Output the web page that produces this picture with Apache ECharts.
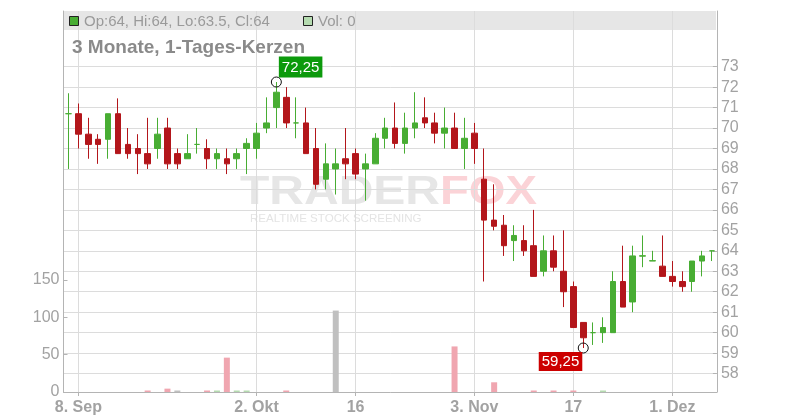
<!DOCTYPE html>
<html><head><meta charset="utf-8">
<script src="https://cdn.jsdelivr.net/npm/echarts@6/dist/echarts.min.js"></script>
<style>html,body{margin:0;padding:0;background:#fff}#c{width:800px;height:420px}</style>
</head><body><div id="c"></div>
<script>
const categories = [
 '2025-09-05',
 '2025-09-08','2025-09-09','2025-09-10','2025-09-11','2025-09-12',
 '2025-09-15','2025-09-16','2025-09-17','2025-09-18','2025-09-19',
 '2025-09-22','2025-09-23','2025-09-24','2025-09-25','2025-09-26',
 '2025-09-29','2025-09-30','2025-10-01','2025-10-02','2025-10-03',
 '2025-10-06','2025-10-07','2025-10-08','2025-10-09','2025-10-10',
 '2025-10-13','2025-10-14','2025-10-15','2025-10-16','2025-10-17',
 '2025-10-20','2025-10-21','2025-10-22','2025-10-23','2025-10-24',
 '2025-10-27','2025-10-28','2025-10-29','2025-10-30','2025-10-31',
 '2025-11-03','2025-11-04','2025-11-05','2025-11-06','2025-11-07',
 '2025-11-10','2025-11-11','2025-11-12','2025-11-13','2025-11-14',
 '2025-11-17','2025-11-18','2025-11-19','2025-11-20','2025-11-21',
 '2025-11-24','2025-11-25','2025-11-26','2025-11-27','2025-11-28',
 '2025-12-01','2025-12-02','2025-12-03','2025-12-04','2025-12-05'
];
const opens = [
 70.7,
 70.7,69.7,69.45,69.45,70.7,
 69.2,69.0,68.75,69.0,70.0,
 68.75,68.5,69.2,69.0,68.5,
 68.5,68.5,69.0,69.0,70.0,
 71.0,71.5,70.25,70.25,69.0,
 67.5,68.0,68.5,68.75,68.0,
 68.25,69.5,70.0,69.25,70.0,
 70.5,70.25,69.75,70.0,69.0,
 69.75,67.5,65.5,65.25,64.5,
 64.5,64.25,63.0,64.0,63.0,
 62.25,60.5,60.0,60.0,60.0,
 62.5,61.5,63.74,63.5,63.25,
 62.75,62.5,62.5,63.5,64
];
const closes = [
 70.7,
 69.7,69.2,69.2,70.7,68.75,
 68.75,68.75,68.25,69.7,68.25,
 68.25,68.75,69.2,68.5,68.75,
 68.25,68.75,69.25,69.75,70.25,
 71.75,70.25,70.25,68.75,67.25,
 68.25,68.25,68.25,67.75,68.25,
 69.5,70.0,69.25,70.0,70.25,
 70.25,69.75,70.0,69.0,69.5,
 69.0,65.5,65.2,64.25,64.75,
 64.0,62.75,64.0,63.2,62.0,
 60.25,59.75,60.0,60.25,62.5,
 61.25,63.75,63.76,63.52,62.75,
 62.5,62.25,63.5,63.75,64
];
const lows = [
 68.0,
 69.0,68.5,68.25,68.5,68.75,
 68.5,67.75,68.0,68.5,68.0,
 68.0,68.5,68.75,68.0,68.0,
 67.75,68.0,67.75,68.5,69.75,
 70.0,70.0,69.5,68.75,67.0,
 67.0,66.75,67.5,67.5,66.45,
 68.25,69.0,69.0,68.75,69.5,
 70.0,69.25,69.0,69.0,68.0,
 68.25,62.5,65.0,63.75,63.5,
 63.75,62.75,62.75,63.0,61.25,
 60.25,59.25,59.4,59.5,60.0,
 61.25,61.0,63.2,63.5,62.75,
 62.25,62.0,62.0,62.75,63.5
];
const highs = [
 71.7,
 71.2,70.5,69.7,70.7,71.45,
 70.0,69.7,70.5,70.5,70.5,
 69.0,69.7,70.0,69.45,69.0,
 69.0,69.0,69.5,70.25,71.5,
 72.25,72.0,71.5,71.0,70.0,
 69.25,69.0,70.0,69.0,68.75,
 69.75,70.5,71.25,70.75,71.75,
 71.5,70.75,71.0,70.75,70.5,
 70.25,69.0,67.25,65.75,65.25,
 65.25,66.0,64.75,64.75,65.0,
 62.5,60.5,60.5,60.75,63.0,
 64.25,64.25,64.75,64.0,64.75,
 63.5,63.0,63.5,64.0,64
];
const volumes = [
 0,
 0,0,0,0,0,
 0,0,2,0,4.5,
 2,0,0,2,2,
 46,2,2,0,0,
 0,2,0,0,0,
 0,109,0,0,0,
 0,0,0,0,0,
 0,0,0,61,0,
 0,0,13,0,0,
 0,2,0,2,0,
 2,0,0,2,0,
 0,0,0,0,0,
 0,0,0,0,0
];
const xTickDates = ['2025-09-08','2025-10-02','2025-10-16','2025-11-03','2025-11-17','2025-12-01'];
const xTickTexts = ['8. Sep','2. Okt','16','3. Nov','17','1. Dez'];
const priceTicks = [58,59,60,61,62,63,64,65,66,67,68,69,70,71,72,73];
const volumeTicks = [0,50,100,150];
const titleText = '3 Monate, 1-Tages-Kerzen';

const GREEN = '#48ad33', RED = '#b3161b';
const VOL_UP = '#b5dbb0', VOL_DOWN = '#f0a6b0', VOL_FLAT = '#c0c0c0';
const NARROW = "'Liberation Sans Narrow','Arial Narrow','Liberation Sans',Arial,sans-serif";
const SANS = "'Liberation Sans',Arial,sans-serif";
const AXIS_COLOR = '#b4b4b4', LABEL_COLOR = '#a2a2a2', GRID_COLOR = '#dcdcdc';

const isTick = (idx, value) => xTickDates.indexOf(value) >= 0;
const volColor = i => {
  const prev = i > 0 ? closes[i - 1] : opens[i];
  return closes[i] > prev ? VOL_UP : (closes[i] < prev ? VOL_DOWN : VOL_FLAT);
};
const fmtComma = v => String(v).replace('.', ',');

let iMax = 0, iMin = 0;
highs.forEach((h, i) => { if (h > highs[iMax]) iMax = i; });
lows.forEach((l, i) => { if (l < lows[iMin]) iMin = i; });
const last = categories.length - 1;
const legendText = `Op:${opens[last]}, Hi:${highs[last]}, Lo:${lows[last]}, Cl:${closes[last]}`;
const volText = `Vol: ${volumes[last]}`;

const chart = echarts.init(document.getElementById('c'), null, {renderer: 'canvas'});
chart.setOption({
  animation: false,
  backgroundColor: '#fff',
  grid: {left: 63.5, right: 83.1, top: 11, bottom: 28, containLabel: false, outerBoundsMode: 'none'},
  xAxis: {
    type: 'category', data: categories, boundaryGap: true,
    axisLine: {show: true, lineStyle: {color: AXIS_COLOR}},
    axisTick: {show: true, interval: isTick, alignWithLabel: true, length: 4, lineStyle: {color: AXIS_COLOR}},
    axisLabel: {interval: isTick, formatter: v => { const k = xTickDates.indexOf(v); return k >= 0 ? xTickTexts[k] : ''; },
      color: LABEL_COLOR, fontSize: 16, fontWeight: 'bold', fontFamily: NARROW, margin: 8},
    splitLine: {show: true, interval: isTick, alignWithLabel: true, lineStyle: {color: GRID_COLOR, width: 1}}
  },
  yAxis: [
    {
      type: 'value', position: 'right', min: 57.1, max: 75.72,
      axisLine: {show: true, lineStyle: {color: AXIS_COLOR}},
      axisTick: {show: true, inside: true, length: 4, customValues: priceTicks, lineStyle: {color: AXIS_COLOR}},
      axisLabel: {customValues: priceTicks, color: LABEL_COLOR, fontSize: 16, fontFamily: NARROW, margin: 4},
      splitLine: {show: true, lineStyle: {color: GRID_COLOR, width: 1}}
    },
    {
      type: 'value', position: 'left', min: 0, max: 510,
      axisLine: {show: true, lineStyle: {color: AXIS_COLOR}},
      axisTick: {show: true, inside: true, length: 4, customValues: volumeTicks, lineStyle: {color: AXIS_COLOR}},
      axisLabel: {customValues: volumeTicks, color: LABEL_COLOR, fontSize: 16, fontFamily: NARROW, margin: 4},
      splitLine: {show: false}
    }
  ],
  graphic: {elements: [
    {type: 'rect', z: -5, silent: true, shape: {x: 63.5, y: 11, width: 652.5, height: 19}, style: {fill: '#e6e6e6'}},
    {type: 'text', z: -4, silent: true, x: 240, y: 193, scaleX: 1.2, style: {text: 'TRADER', font: "bold 40px 'Liberation Sans',Arial", fill: '#e6e6e6', verticalAlign: 'middle'}},
    {type: 'text', z: -4, silent: true, x: 440, y: 193, scaleX: 1.18, style: {text: 'FOX', font: "bold 40px 'Liberation Sans',Arial", fill: '#fbd3d7', verticalAlign: 'middle'}},
    {type: 'text', z: -4, silent: true, x: 250, y: 219, scaleX: 1.05, style: {text: 'REALTIME STOCK SCREENING', font: "11px 'Liberation Sans',Arial", fill: '#e4e4e4', verticalAlign: 'middle'}},
    {type: 'rect', z: 50, silent: true, shape: {x: 69.5, y: 16.5, width: 9, height: 9}, style: {fill: GREEN, stroke: '#222', lineWidth: 1}},
    {type: 'text', z: 50, silent: true, x: 84, y: 21.5, style: {text: legendText, font: "15px " + SANS, fill: '#9a9a9a', verticalAlign: 'middle'}},
    {type: 'rect', z: 50, silent: true, shape: {x: 303.5, y: 16.5, width: 9, height: 9}, style: {fill: VOL_UP, stroke: '#222', lineWidth: 1}},
    {type: 'text', z: 50, silent: true, x: 318, y: 21.5, style: {text: volText, font: "15px " + SANS, fill: '#9a9a9a', verticalAlign: 'middle'}},
    {type: 'text', z: 50, silent: true, x: 72, y: 47.5, style: {text: titleText, font: "bold 19px " + SANS, fill: '#8a8a8a', verticalAlign: 'middle'}}
  ]},
  series: [
    {
      type: 'bar', yAxisIndex: 1, barWidth: 6, z: 1, silent: true,
      data: volumes.map((v, i) => ({value: v, itemStyle: {color: volColor(i)}}))
    },
    {
      type: 'candlestick', yAxisIndex: 0, barWidth: 6, z: 3, silent: true,
      data: categories.map((_, i) => [opens[i], closes[i], lows[i], highs[i]]),
      itemStyle: {color: GREEN, color0: RED, borderColor: GREEN, borderColor0: RED, borderWidth: 1},
      markPoint: {
        silent: true, animation: false,
        data: [
          {coord: [iMax, highs[iMax]], value: highs[iMax], symbol: 'circle', symbolSize: 10,
           itemStyle: {color: 'rgba(0,0,0,0)', borderColor: '#111', borderWidth: 1},
           label: {show: true, formatter: fmtComma(highs[iMax]), position: [8, -20], backgroundColor: '#0c9a0c', color: '#fff',
             fontSize: 15, fontFamily: SANS, padding: [3, 3, 2, 3], lineHeight: 16}},
          {coord: [iMin, lows[iMin]], value: lows[iMin], symbol: 'circle', symbolSize: 10,
           itemStyle: {color: 'rgba(0,0,0,0)', borderColor: '#111', borderWidth: 1},
           label: {show: true, formatter: fmtComma(lows[iMin]), position: [-39, 9.5], backgroundColor: '#cc0000', color: '#fff',
             fontSize: 15, fontFamily: SANS, padding: [2, 3, 1, 3], lineHeight: 16}}
        ]
      }
    }
  ]
});
</script></body></html>
